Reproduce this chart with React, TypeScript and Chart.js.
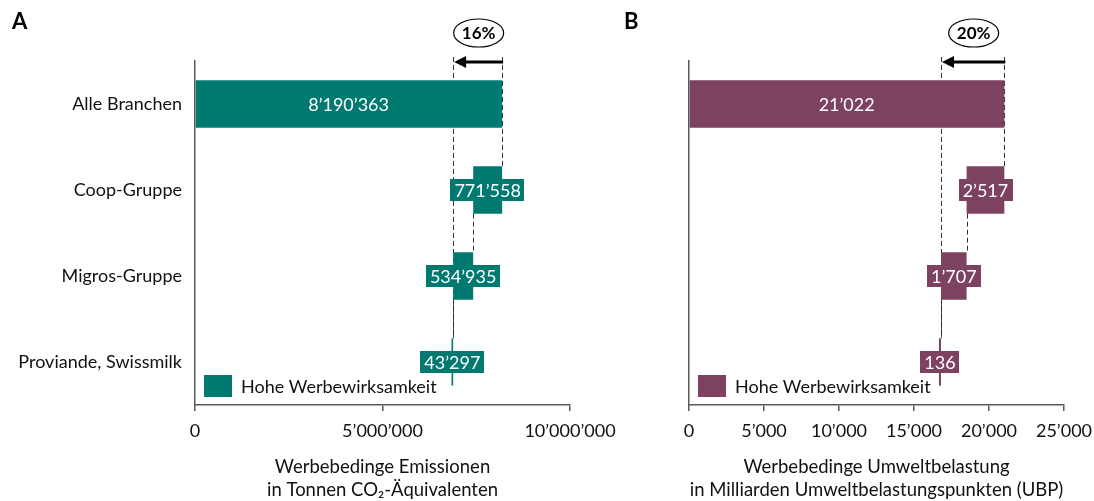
import React, { useEffect, useRef } from 'react';
import { Chart, registerables } from 'chart.js';

Chart.register(...registerables);

// ---------- data ----------
const categories = ['Alle Branchen', 'Coop-Gruppe', 'Migros-Gruppe', 'Proviande, Swissmilk'];

const emissionsTotal = 8190363;
const emissionsReductions = [771558, 534935, 43297];
const emissionsShare = '16%';
const emissionsAxisMax = 10000000;
const emissionsAxisStep = 5000000;
const emissionsTitle = ['Werbebedinge Emissionen', 'in Tonnen CO\u2082-\u00C4quivalenten'];

const ubpTotal = 21022;
const ubpReductions = [2517, 1707, 136];
const ubpShare = '20%';
const ubpAxisMax = 25000;
const ubpAxisStep = 5000;
const ubpTitle = ['Werbebedinge Umweltbelastung', 'in Milliarden Umweltbelastungspunkten (UBP)'];

const legendLabel = 'Hohe Werbewirksamkeit';

const TEAL = '#007A70';
const PLUM = '#7C4260';
const AXIS = '#595959';
const FONT = 'Lato, "Open Sans", "DejaVu Sans", sans-serif';

function fmt(n: number): string {
  return Math.round(n).toString().replace(/\B(?=(\d{3})+(?!\d))/g, '\u2019');
}

function waterfall(total: number, reductions: number[]): number[][] {
  const out: number[][] = [[0, total]];
  let cur = total;
  for (const r of reductions) {
    out.push([cur - r, cur]);
    cur -= r;
  }
  return out;
}

type PanelProps = {
  letter: string;
  letterX: number;
  color: string;
  total: number;
  reductions: number[];
  share: string;
  max: number;
  step: number;
  title: string[];
  showCategories: boolean;
  left: number;
  width: number;
  areaLeft: number;
  areaRight: number;
};

function Panel(p: PanelProps) {
  const ref = useRef<HTMLCanvasElement | null>(null);

  useEffect(() => {
    const canvas = ref.current;
    if (!canvas) return;
    const values = [p.total, ...p.reductions];
    const bars = waterfall(p.total, p.reductions);
    const height = 501;

    const decor = {
      id: 'decor',
      beforeDatasetsDraw(chart: any) {
        const ctx = chart.ctx;
        const xs = chart.scales.x;
        const els = chart.getDatasetMeta(0).data;
        const arrowY = chart.chartArea.top + 1;
        ctx.save();
        ctx.strokeStyle = '#333333';
        ctx.lineWidth = 1;
        ctx.setLineDash([5, 3]);
        const xTot = Math.round(xs.getPixelForValue(p.total)) + 0.5;
        ctx.beginPath();
        ctx.moveTo(xTot, arrowY - 5);
        ctx.lineTo(xTot, els[1].y - els[1].height / 2);
        ctx.stroke();
        for (let i = 1; i < bars.length - 1; i++) {
          const xv = Math.round(xs.getPixelForValue(bars[i][0])) + 0.5;
          ctx.beginPath();
          ctx.moveTo(xv, els[i].y + els[i].height / 2);
          ctx.lineTo(xv, els[i + 1].y - els[i + 1].height / 2);
          ctx.stroke();
        }
        const last = bars.length - 1;
        const xEnd = Math.round(xs.getPixelForValue(bars[last][1])) + 0.5;
        ctx.beginPath();
        ctx.moveTo(xEnd, arrowY - 5);
        ctx.lineTo(xEnd, els[last].y - els[last].height / 2);
        ctx.stroke();
        ctx.restore();
      },
      afterDatasetsDraw(chart: any) {
        const ctx = chart.ctx;
        const xs = chart.scales.x;
        const area = chart.chartArea;
        const els = chart.getDatasetMeta(0).data;
        ctx.save();
        ctx.font = `18px ${FONT}`;
        ctx.textBaseline = 'middle';
        ctx.textAlign = 'center';
        bars.forEach((b, i) => {
          const x0 = xs.getPixelForValue(b[0]);
          const x1 = xs.getPixelForValue(b[1]);
          const cx = (x0 + x1) / 2;
          const cy = els[i].y;
          const label = fmt(values[i]);
          if (i > 0) {
            const w = ctx.measureText(label).width + 8;
            ctx.fillStyle = p.color;
            ctx.fillRect(Math.round(cx - w / 2), Math.round(cy - 11), Math.round(w), 22);
          }
          ctx.fillStyle = '#FFFFFF';
          ctx.fillText(label, cx, cy + 1);
        });

        // legend
        const lx = area.left + 9;
        ctx.fillStyle = p.color;
        ctx.fillRect(lx, area.bottom - 30, 28, 22);
        ctx.fillStyle = '#111111';
        ctx.textAlign = 'left';
        ctx.fillText(legendLabel, lx + 37, area.bottom - 18);

        // arrow
        const arrowY = area.top + 1;
        const xTot = xs.getPixelForValue(p.total);
        const last = bars.length - 1;
        const xEnd = xs.getPixelForValue(bars[last][1]);
        ctx.strokeStyle = '#000000';
        ctx.fillStyle = '#000000';
        ctx.setLineDash([]);
        ctx.lineWidth = 3;
        ctx.beginPath();
        ctx.moveTo(xTot + 1, arrowY);
        ctx.lineTo(xEnd + 11, arrowY);
        ctx.stroke();
        ctx.beginPath();
        ctx.moveTo(xEnd + 1, arrowY);
        ctx.lineTo(xEnd + 13, arrowY - 6);
        ctx.lineTo(xEnd + 13, arrowY + 6);
        ctx.closePath();
        ctx.fill();

        // ellipse with share
        const ex = (xTot + xEnd) / 2 + 1;
        const ey = 33;
        ctx.lineWidth = 1.2;
        ctx.beginPath();
        ctx.ellipse(ex, ey, 25, 14, 0, 0, Math.PI * 2);
        ctx.fillStyle = '#FFFFFF';
        ctx.fill();
        ctx.stroke();
        ctx.fillStyle = '#000000';
        ctx.textAlign = 'center';
        ctx.font = `bold 17px ${FONT}`;
        ctx.fillText(p.share, ex, ey + 1);

        // panel letter
        ctx.font = `bold 22px ${FONT}`;
        ctx.textAlign = 'left';
        ctx.fillText(p.letter, p.letterX, 22);

        // axis title
        ctx.font = `18.5px ${FONT}`;
        ctx.fillStyle = '#111111';
        ctx.textAlign = 'center';
        const tx = (area.left + area.right) / 2;
        ctx.fillText(p.title[0], tx, 467);
        ctx.fillText(p.title[1], tx, 490);
        ctx.restore();
      },
    };

    const chart = new Chart(canvas, {
      type: 'bar',
      data: {
        labels: categories,
        datasets: [
          {
            data: bars as any,
            backgroundColor: p.color,
            borderWidth: 0,
            barPercentage: 0.55,
            categoryPercentage: 1,
          },
        ],
      },
      options: {
        indexAxis: 'y',
        animation: false,
        responsive: false,
        maintainAspectRatio: false,
        layout: { padding: { top: 61, right: p.width - p.areaRight, left: 0, bottom: 0 } },
        scales: {
          x: {
            type: 'linear',
            min: 0,
            max: p.max,
            position: 'bottom',
            ticks: {
              stepSize: p.step,
              callback: (v: any) => fmt(Number(v)),
              color: '#111111',
              font: { family: FONT, size: 18 },
              padding: 9,
              maxRotation: 0,
              autoSkip: false,
            },
            grid: { drawOnChartArea: false, drawTicks: true, tickLength: 6, color: AXIS, lineWidth: 1.5 },
            border: { display: true, color: AXIS, width: 1.5 },
            afterFit: (s: any) => {
              s.height = height - 405;
              s.paddingLeft = 0;
              s.paddingRight = 0;
            },
          },
          y: {
            type: 'category',
            position: 'left',
            ticks: {
              display: p.showCategories,
              color: '#111111',
              font: { family: FONT, size: 18 },
              padding: 13,
            },
            grid: { display: false, drawTicks: false },
            border: { display: true, color: AXIS, width: 1.5 },
            afterFit: (s: any) => {
              s.width = p.areaLeft;
              s.paddingTop = 0;
              s.paddingBottom = 0;
            },
          },
        },
        plugins: {
          legend: { display: false },
          tooltip: { enabled: false },
        },
      },
      plugins: [decor],
    } as any);

    return () => chart.destroy();
  }, []);

  return (
    <canvas
      ref={ref}
      width={p.width}
      height={501}
      style={{ position: 'absolute', left: p.left, top: 0, width: p.width, height: 501 }}
    />
  );
}

export default function App() {
  return (
    <div style={{ position: 'fixed', left: 0, top: 0, width: 1094, height: 501, background: '#FFFFFF', overflow: 'hidden' }}>
      <Panel
        letter="A"
        letterX={12}
        color={TEAL}
        total={emissionsTotal}
        reductions={emissionsReductions}
        share={emissionsShare}
        max={emissionsAxisMax}
        step={emissionsAxisStep}
        title={emissionsTitle}
        showCategories={true}
        left={0}
        width={640}
        areaLeft={195}
        areaRight={570}
      />
      <Panel
        letter="B"
        letterX={24}
        color={PLUM}
        total={ubpTotal}
        reductions={ubpReductions}
        share={ubpShare}
        max={ubpAxisMax}
        step={ubpAxisStep}
        title={ubpTitle}
        showCategories={false}
        left={600}
        width={494}
        areaLeft={89}
        areaRight={464}
      />
    </div>
  );
}
